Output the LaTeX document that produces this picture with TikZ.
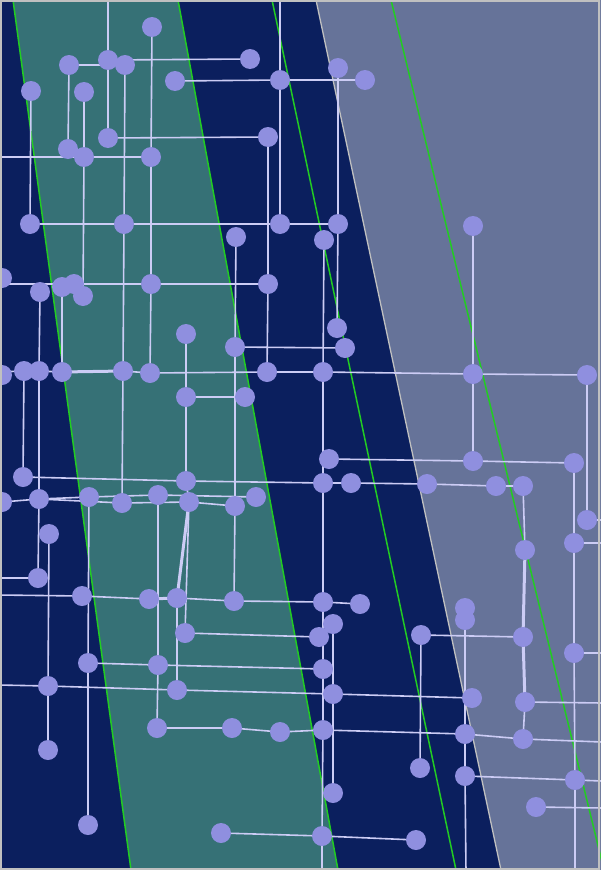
\documentclass[tikz,border=0pt]{standalone}
\definecolor{navyc}{HTML}{0B1F5E}
\definecolor{tealc}{HTML}{367176}
\definecolor{greyreg}{HTML}{667399}
\definecolor{nodec}{HTML}{8F8FDF}
\definecolor{edgec}{HTML}{CCCCF5}
\definecolor{greenc}{HTML}{22CC22}
\definecolor{framec}{HTML}{C0C0C0}
\pgfdeclarelayer{back}
\pgfdeclarelayer{edges}
\pgfsetlayers{back,edges,main}
\begin{document}
\begin{tikzpicture}[x=1pt,y=-1pt,
  dot/.style={circle,fill=nodec,draw=none,minimum size=20pt,inner sep=0pt},
  edge/.style={draw=edgec,line width=1.6pt},
  fatedge/.style={draw=edgec,line width=3pt},
  greenline/.style={draw=greenc,line width=1.5pt}]
\useasboundingbox (0,0) rectangle (600,870);
\clip (0,0) rectangle (600,870);
\begin{pgfonlayer}{back}
\fill[navyc] (0,0) rectangle (600,870);
\fill[tealc] (13,0) -- (178,0) -- (338,870) -- (131,870) -- cycle;
\fill[greyreg] (316,0) -- (610,0) -- (610,870) -- (501,870) -- cycle;
\draw[framec,line width=1.3pt] (316,0) -- (501,870);
\draw[greenline] (13,0) -- (131,870);
\draw[greenline] (178,0) -- (338,870);
\draw[greenline] (272,0) -- (456,870);
\draw[greenline] (391,0) -- (604,870);
\end{pgfonlayer}
% nodes
\node[dot] (n1) at (152,27) {};
\node[dot] (n2) at (108,60) {};
\node[dot] (n3) at (125,65) {};
\node[dot] (n4) at (69,65) {};
\node[dot] (n5) at (250,59) {};
\node[dot] (n6) at (31,91) {};
\node[dot] (n7) at (84,92) {};
\node[dot] (n8) at (175,81) {};
\node[dot] (n9) at (280,80) {};
\node[dot] (n10) at (338,68) {};
\node[dot] (n11) at (365,80) {};
\node[dot] (n12) at (108,138) {};
\node[dot] (n13) at (268,137) {};
\node[dot] (n14) at (68,149) {};
\node[dot] (n15) at (84,157) {};
\node[dot] (n16) at (151,157) {};
\node[dot] (n17) at (30,224) {};
\node[dot] (n18) at (124,224) {};
\node[dot] (n19) at (280,224) {};
\node[dot] (n20) at (338,224) {};
\node[dot] (n21) at (236,237) {};
\node[dot] (n22) at (324,240) {};
\node[dot] (n23) at (473,226) {};
\node[dot] (n24) at (2,278) {};
\node[dot] (n25) at (40,292) {};
\node[dot] (n26) at (62,287) {};
\node[dot] (n27) at (74,284) {};
\node[dot] (n28) at (83,296) {};
\node[dot] (n29) at (151,284) {};
\node[dot] (n30) at (268,284) {};
\node[dot] (n31) at (186,334) {};
\node[dot] (n32) at (337,328) {};
\node[dot] (n33) at (345,348) {};
\node[dot] (n34) at (235,347) {};
\node[dot] (n35) at (2,375) {};
\node[dot] (n36) at (24,371) {};
\node[dot] (n37) at (39,371) {};
\node[dot] (n38) at (62,372) {};
\node[dot] (n39) at (123,371) {};
\node[dot] (n40) at (150,373) {};
\node[dot] (n41) at (267,372) {};
\node[dot] (n42) at (323,372) {};
\node[dot] (n43) at (473,374) {};
\node[dot] (n44) at (587,375) {};
\node[dot] (n45) at (186,397) {};
\node[dot] (n46) at (245,397) {};
\node[dot] (n47) at (329,459) {};
\node[dot] (n48) at (473,461) {};
\node[dot] (n49) at (574,463) {};
\node[dot] (n50) at (23,477) {};
\node[dot] (n51) at (186,481) {};
\node[dot] (n52) at (323,483) {};
\node[dot] (n53) at (351,483) {};
\node[dot] (n54) at (427,484) {};
\node[dot] (n55) at (496,486) {};
\node[dot] (n56) at (523,486) {};
\node[dot] (n57) at (2,502) {};
\node[dot] (n58) at (39,499) {};
\node[dot] (n59) at (89,497) {};
\node[dot] (n60) at (122,503) {};
\node[dot] (n61) at (158,495) {};
\node[dot] (n62) at (189,502) {};
\node[dot] (n63) at (235,506) {};
\node[dot] (n64) at (256,497) {};
\node[dot] (n65) at (587,520) {};
\node[dot] (n66) at (49,534) {};
\node[dot] (n67) at (574,543) {};
\node[dot] (n68) at (525,550) {};
\node[dot] (n69) at (38,578) {};
\node[dot] (n70) at (82,596) {};
\node[dot] (n71) at (149,599) {};
\node[dot] (n72) at (177,598) {};
\node[dot] (n73) at (234,601) {};
\node[dot] (n74) at (323,602) {};
\node[dot] (n75) at (360,604) {};
\node[dot] (n76) at (465,608) {};
\node[dot] (n77) at (465,620) {};
\node[dot] (n78) at (333,624) {};
\node[dot] (n79) at (319,637) {};
\node[dot] (n80) at (185,633) {};
\node[dot] (n81) at (421,635) {};
\node[dot] (n82) at (523,637) {};
\node[dot] (n83) at (88,663) {};
\node[dot] (n84) at (158,665) {};
\node[dot] (n85) at (323,669) {};
\node[dot] (n86) at (48,686) {};
\node[dot] (n87) at (177,690) {};
\node[dot] (n88) at (333,694) {};
\node[dot] (n89) at (472,698) {};
\node[dot] (n90) at (574,653) {};
\node[dot] (n91) at (525,702) {};
\node[dot] (n92) at (157,728) {};
\node[dot] (n93) at (232,728) {};
\node[dot] (n94) at (280,732) {};
\node[dot] (n95) at (323,730) {};
\node[dot] (n96) at (465,734) {};
\node[dot] (n97) at (523,739) {};
\node[dot] (n98) at (48,750) {};
\node[dot] (n99) at (420,768) {};
\node[dot] (n100) at (333,793) {};
\node[dot] (n101) at (465,776) {};
\node[dot] (n102) at (575,780) {};
\node[dot] (n103) at (536,807) {};
\node[dot] (n104) at (88,825) {};
\node[dot] (n105) at (221,833) {};
\node[dot] (n106) at (322,836) {};
\node[dot] (n107) at (416,840) {};
% free ends
\coordinate (t108) at (108,-2);
\coordinate (t280) at (280,-2);
\coordinate (b322) at (322,872);
\coordinate (b466) at (466,872);
\coordinate (b575) at (575,872);
\coordinate (l157) at (-2,157);
\coordinate (l284) at (-2,284);
\coordinate (l372) at (-2,372);
\coordinate (l578) at (-2,578);
\coordinate (l595) at (-2,595);
\coordinate (l686) at (-2,685);
\coordinate (r520) at (602,520);
\coordinate (r543) at (602,543);
\coordinate (r653) at (602,653);
\coordinate (r703) at (602,703);
\coordinate (r742) at (602,742);
\coordinate (r781) at (602,781);
\coordinate (r808) at (602,808);
\begin{pgfonlayer}{edges}
% verticals
\draw[edge] (t108) -- (n2.center) -- (n12.center);
\draw[edge] (t280) -- (n9.center) -- (n19.center);
\draw[edge] (n1.center) -- (n16.center) -- (n29.center) -- (n40.center);
\draw[edge] (n3.center) -- (n18.center) -- (n39.center) -- (n60.center);
\draw[edge] (n4.center) -- (n14.center);
\draw[edge] (n6.center) -- (n17.center);
\draw[edge] (n7.center) -- (n15.center) -- (n28.center);
\draw[edge] (n10.center) -- (n20.center) -- (n32.center);
\draw[edge] (n21.center) -- (n34.center) -- (n63.center) -- (n73.center);
\draw[edge] (n13.center) -- (n30.center) -- (n41.center);
\draw[edge] (n22.center) -- (n42.center) -- (n52.center) -- (n74.center) -- (n85.center) -- (n95.center) -- (n106.center) -- (b322);
\draw[edge] (n25.center) -- (n37.center) -- (n58.center) -- (n69.center);
\draw[edge] (n26.center) -- (n38.center);
\draw[edge] (n36.center) -- (n50.center);
\draw[edge] (n31.center) -- (n45.center) -- (n51.center) -- (n62.center);
\draw[edge] (n59.center) -- (n83.center) -- (n104.center);
\draw[edge] (n66.center) -- (n86.center) -- (n98.center);
\draw[edge] (n61.center) -- (n84.center) -- (n92.center);
\draw[edge] (n62.center) -- (n80.center);
\draw[fatedge] (n62.center) -- (n72.center);
\draw[edge] (n72.center) -- (n87.center);
\draw[edge] (n23.center) -- (n43.center) -- (n48.center);
\draw[edge] (n44.center) -- (n65.center);
\draw[edge] (n49.center) -- (n67.center) -- (n90.center) -- (n102.center) -- (b575);
\draw[edge] (n56.center) -- (n68.center);
\draw[fatedge] (n68.center) -- (n82.center) -- (n91.center);
\draw[edge] (n91.center) -- (n97.center);
\draw[edge] (n76.center) -- (n77.center) -- (n96.center) -- (n101.center) -- (b466);
\draw[edge] (n81.center) -- (n99.center);
\draw[edge] (n78.center) -- (n88.center) -- (n100.center);
% horizontals
\draw[edge] (n2.center) -- (n5.center);
\draw[edge] (n4.center) -- (n3.center);
\draw[edge] (n8.center) -- (n9.center) -- (n11.center);
\draw[edge] (n12.center) -- (n13.center);
\draw[edge] (l157) -- (n15.center) -- (n16.center);
\draw[edge] (n17.center) -- (n18.center) -- (n19.center) -- (n20.center);
\draw[edge] (l284) -- (n27.center) -- (n29.center) -- (n30.center);
\draw[edge] (n34.center) -- (n33.center);
\draw[edge] (l372) -- (n36.center) -- (n37.center) -- (n38.center) -- (n39.center) -- (n40.center) -- (n41.center) -- (n42.center) -- (n43.center) -- (n44.center);
\draw[fatedge] (n38.center) -- (n39.center);
\draw[edge] (n45.center) -- (n46.center);
\draw[edge] (n47.center) -- (n48.center) -- (n49.center);
\draw[edge] (n50.center) -- (n51.center) -- (n52.center) -- (n53.center) -- (n54.center) -- (n55.center) -- (n56.center);
\draw[edge] (n57.center) -- (n58.center) -- (n59.center);
\draw[edge] (n58.center) -- (n60.center) -- (n62.center) -- (n63.center);
\draw[edge] (n59.center) -- (n61.center) -- (n64.center);
\draw[edge] (l578) -- (n69.center);
\draw[edge] (l595) -- (n70.center) -- (n71.center);
\draw[fatedge] (n71.center) -- (n72.center);
\draw[edge] (n72.center) -- (n73.center) -- (n74.center) -- (n75.center);
\draw[edge] (n80.center) -- (n79.center);
\draw[edge] (n83.center) -- (n84.center) -- (n85.center);
\draw[edge] (l686) -- (n86.center) -- (n87.center) -- (n88.center) -- (n89.center);
\draw[edge] (n91.center) -- (r703);
\draw[edge] (n92.center) -- (n93.center) -- (n94.center) -- (n95.center) -- (n96.center) -- (n97.center) -- (r742);
\draw[edge] (n81.center) -- (n82.center);
\draw[edge] (n101.center) -- (n102.center) -- (r781);
\draw[edge] (n103.center) -- (r808);
\draw[edge] (n105.center) -- (n106.center) -- (n107.center);
\draw[edge] (n65.center) -- (r520);
\draw[edge] (n67.center) -- (r543);
\draw[edge] (n90.center) -- (r653);
\end{pgfonlayer}
\draw[framec,line width=4pt] (0,0) rectangle (600,870);
\end{tikzpicture}
\end{document}
